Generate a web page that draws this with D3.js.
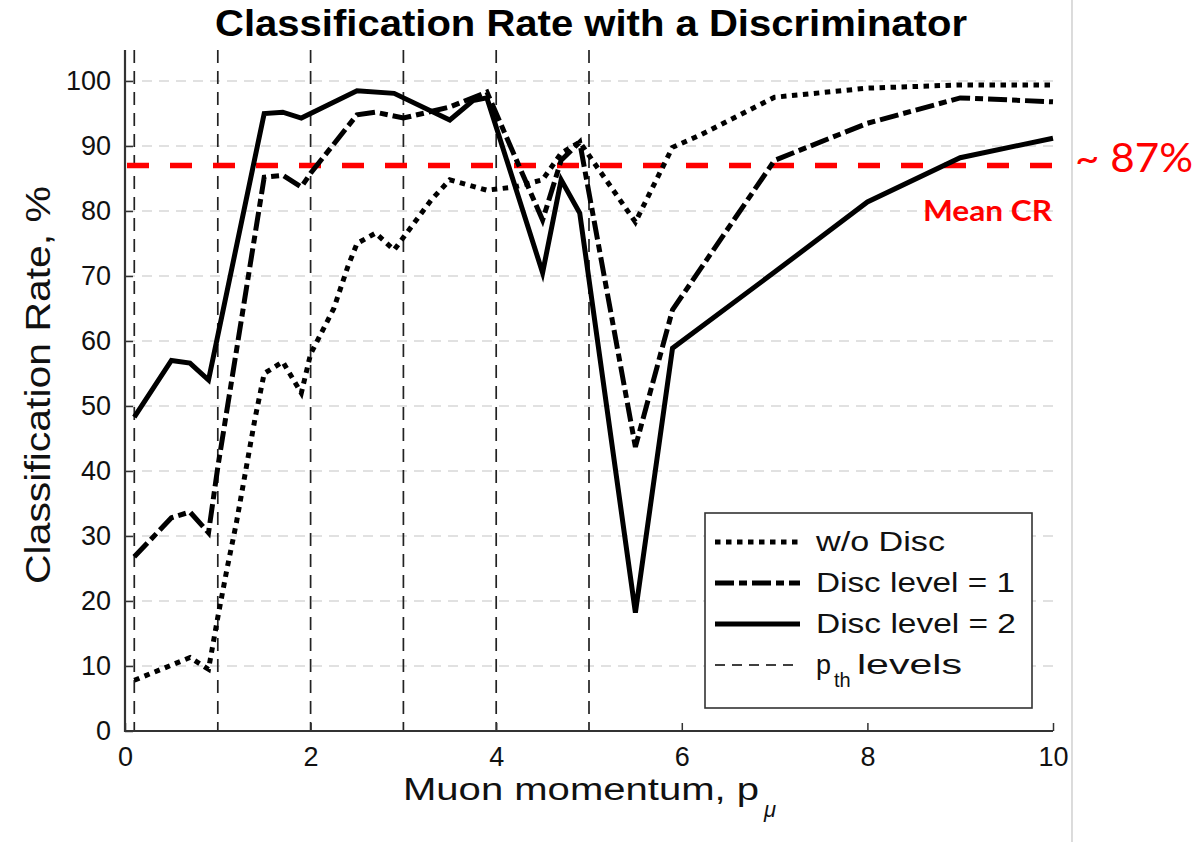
<!DOCTYPE html>
<html>
<head>
<meta charset="utf-8">
<script src="https://cdn.jsdelivr.net/npm/d3@7"></script>
<style>
  html, body { margin: 0; padding: 0; background: #fff; }
  svg { display: block; }
</style>
</head>
<body>
<svg id="chart" width="1199" height="842"></svg>
<script>
// ---------------- DATA ----------------
const xTicks = [0, 2, 4, 6, 8, 10];
const yTicks = [0, 10, 20, 30, 40, 50, 60, 70, 80, 90, 100];
const thresholdLevels = [0.1, 1, 2, 3, 4, 5];
const meanCR = 87;

const momentumNoDisc = [0.1, 0.7, 0.9, 1.0, 1.1, 1.2, 1.3, 1.4, 1.5, 1.7, 1.9, 2.0, 2.25, 2.4, 2.5, 2.7, 2.9, 3.3, 3.5, 3.9, 4.2, 4.5, 4.7, 4.9, 5.5, 5.9, 6.2, 7, 8, 9, 10];
const rateNoDisc     = [7.8, 11.3, 9.5, 17.5, 25, 32, 40, 48, 55, 56.8, 52, 58, 65, 71.4, 75, 76.6, 74, 81.7, 84.8, 83.2, 83.7, 84.8, 88.9, 90.6, 78.3, 89.8, 91.7, 97.5, 98.9, 99.4, 99.4];

const momentumDisc1 = [0.1, 0.5, 0.7, 0.9, 1.0, 1.5, 1.7, 1.9, 2.0, 2.5, 2.7, 3.0, 3.5, 3.9, 4.5, 4.7, 4.9, 5.5, 5.9, 7, 8, 9, 10];
const rateDisc1     = [26.8, 32.8, 33.7, 30.5, 40.6, 85.2, 85.5, 83.7, 85.8, 94.8, 95.2, 94.3, 96, 98.3, 78.6, 87.8, 90.6, 43.7, 64.8, 87.8, 93.5, 97.4, 96.8];

const momentumDisc2 = [0.1, 0.5, 0.7, 0.9, 1.5, 1.7, 1.9, 2.5, 2.9, 3.5, 3.75, 3.9, 4.5, 4.7, 4.9, 5.5, 5.9, 7, 8, 9, 10];
const rateDisc2     = [48.3, 57, 56.6, 54, 95, 95.2, 94.3, 98.5, 98.1, 94, 97, 97.4, 70.5, 84.8, 79.7, 18.2, 58.9, 70.6, 81.4, 88.2, 91.2];

const seriesNames = ["w/o Disc", "Disc level = 1", "Disc level = 2"];

// ---------------- LAYOUT ----------------
const svg = d3.select("#chart");
svg.append("rect").attr("width", 1199).attr("height", 842).attr("fill", "#fff");

const x = d3.scaleLinear().domain([0, 10]).range([125, 1053]);
const y = d3.scaleLinear().domain([0, 100]).range([731, 81]);
const axisTop = 50;
const FONT = "'Liberation Sans', Arial, Helvetica, sans-serif";
const CAL = "Lato, 'Open Sans', sans-serif";

// gray frame line on right (slide border)
svg.append("line").attr("x1", 1072).attr("x2", 1072).attr("y1", 0).attr("y2", 842)
  .attr("stroke", "#c4c4c4").attr("stroke-width", 1.2);

// horizontal grid
svg.append("g").selectAll("line").data(yTicks.filter(d => d > 0)).join("line")
  .attr("x1", x(0)).attr("x2", x(10))
  .attr("y1", d => y(d)).attr("y2", d => y(d))
  .attr("stroke", "#d8d8d8").attr("stroke-width", 1.5).attr("stroke-dasharray", "10,7");

// threshold vertical lines
svg.append("g").selectAll("line").data(thresholdLevels).join("line")
  .attr("x1", d => x(d)).attr("x2", d => x(d))
  .attr("y1", axisTop).attr("y2", y(0))
  .attr("stroke", "#222").attr("stroke-width", 1.7).attr("stroke-dasharray", "13,8");

// mean CR red dashed line
svg.append("line").attr("x1", x(0) + 2).attr("x2", x(10))
  .attr("y1", y(meanCR)).attr("y2", y(meanCR))
  .attr("stroke", "#ff0000").attr("stroke-width", 5.5).attr("stroke-dasharray", "22,21");

// series
const line = d3.line().x(d => x(d[0])).y(d => y(d[1]));
const styles = [
  { dash: "5.5,5.5", width: 5 },
  { dash: "19,5,8,5", width: 5 },
  { dash: null, width: 5 }
];
const seriesData = [
  d3.zip(momentumNoDisc, rateNoDisc),
  d3.zip(momentumDisc1, rateDisc1),
  d3.zip(momentumDisc2, rateDisc2)
];
seriesData.forEach((pts, i) => {
  svg.append("path").datum(pts).attr("d", line)
    .attr("fill", "none").attr("stroke", "#000")
    .attr("stroke-width", styles[i].width)
    .attr("stroke-linejoin", "miter")
    .attr("stroke-dasharray", styles[i].dash);
});

// axes
const yAxis = d3.axisLeft(y).tickValues(yTicks).tickSize(-8).tickPadding(14);
const gy = svg.append("g").attr("transform", `translate(${x(0)},0)`).call(yAxis);
gy.select(".domain").remove();
gy.selectAll(".tick line").attr("stroke", "#333").attr("stroke-width", 1.5);
gy.selectAll(".tick text").attr("font-family", FONT).attr("font-size", 27).attr("fill", "#111");

const xAxis = d3.axisBottom(x).tickValues(xTicks).tickSize(-8).tickPadding(16);
const gx = svg.append("g").attr("transform", `translate(0,${y(0)})`).call(xAxis);
gx.select(".domain").remove();
gx.selectAll(".tick line").attr("stroke", "#333").attr("stroke-width", 1.5);
gx.selectAll(".tick text").attr("font-family", FONT).attr("font-size", 27).attr("fill", "#111");

// axis lines
svg.append("line").attr("x1", x(0)).attr("x2", x(0)).attr("y1", axisTop).attr("y2", y(0) + 1)
  .attr("stroke", "#333").attr("stroke-width", 2.2);
svg.append("line").attr("x1", x(0) - 1).attr("x2", x(10)).attr("y1", y(0)).attr("y2", y(0))
  .attr("stroke", "#333").attr("stroke-width", 2.2);

// title
svg.append("text").attr("x", 591).attr("y", 36).attr("text-anchor", "middle")
  .attr("font-family", FONT).attr("font-weight", "bold").attr("font-size", 36)
  .attr("textLength", 752).attr("lengthAdjust", "spacingAndGlyphs")
  .attr("fill", "#000").text("Classification Rate with a Discriminator");

// y label
svg.append("text").attr("transform", "translate(50,385) rotate(-90)")
  .attr("text-anchor", "middle").attr("font-family", FONT).attr("font-size", 35)
  .attr("textLength", 398).attr("lengthAdjust", "spacingAndGlyphs")
  .attr("fill", "#111").text("Classification Rate, %");

// x label
svg.append("text").attr("x", 403).attr("y", 800)
  .attr("font-family", FONT).attr("font-size", 31)
  .attr("textLength", 356).attr("lengthAdjust", "spacingAndGlyphs")
  .attr("fill", "#111").text("Muon momentum, p");
svg.append("text").attr("x", 764).attr("y", 817)
  .attr("font-family", FONT).attr("font-size", 22).attr("font-style", "italic")
  .attr("fill", "#111").text("μ");

// red annotations
svg.append("text").attr("x", 1052).attr("y", 221).attr("text-anchor", "end")
  .attr("font-family", CAL).attr("font-weight", "bold").attr("font-size", 29)
  .attr("textLength", 129).attr("lengthAdjust", "spacingAndGlyphs")
  .attr("fill", "#ff0000").text("Mean CR");
svg.append("text").attr("x", 1075).attr("y", 172)
  .attr("font-family", CAL).attr("font-size", 40)
  .attr("textLength", 118).attr("lengthAdjust", "spacingAndGlyphs")
  .attr("fill", "#ff0000").text("~ 87%");

// legend
const lg = svg.append("g");
lg.append("rect").attr("x", 705).attr("y", 513).attr("width", 327).attr("height", 195)
  .attr("fill", "#fff").attr("stroke", "#333").attr("stroke-width", 1.6);
const legendRows = [
  { label: seriesNames[0], dash: styles[0].dash, w: 5, len: 129 },
  { label: seriesNames[1], dash: styles[1].dash, w: 5, len: 199 },
  { label: seriesNames[2], dash: null, w: 5, len: 200 },
  { label: "p", dash: "10,7", w: 1.7, len: null }
];
legendRows.forEach((r, i) => {
  const cy = 542 + i * 41;
  lg.append("line").attr("x1", 715).attr("x2", 800).attr("y1", cy).attr("y2", cy)
    .attr("stroke", "#000").attr("stroke-width", r.w).attr("stroke-dasharray", r.dash);
  const t = lg.append("text").attr("x", 816).attr("y", cy + 9)
    .attr("font-family", FONT).attr("font-size", 27).attr("fill", "#111").text(r.label);
  if (r.len) t.attr("textLength", r.len).attr("lengthAdjust", "spacingAndGlyphs");
});
// p_th subscript + levels
lg.append("text").attr("x", 834).attr("y", 687).attr("font-family", FONT).attr("font-size", 20)
  .attr("fill", "#111").text("th");
lg.append("text").attr("x", 857).attr("y", 674).attr("font-family", FONT).attr("font-size", 27)
  .attr("textLength", 105).attr("lengthAdjust", "spacingAndGlyphs")
  .attr("fill", "#111").text("levels");
</script>
</body>
</html>
